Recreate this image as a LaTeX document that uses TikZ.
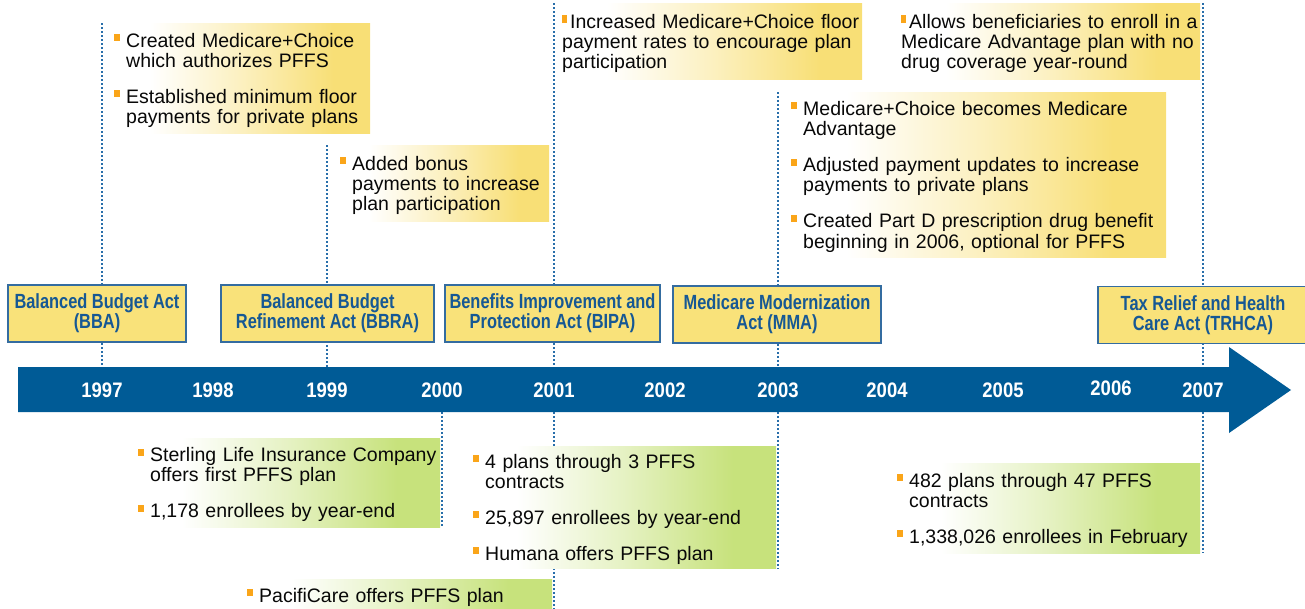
\documentclass[tikz,border=0pt]{standalone}
\usepackage{fontspec}
\setmainfont{Liberation Sans}
\newfontfamily\narrowsans[FakeStretch=0.8]{Liberation Sans}
\newfontfamily\yearsans[FakeStretch=0.88]{Liberation Sans}
\usetikzlibrary{backgrounds}

\definecolor{barblue}{RGB}{0,91,150}
\definecolor{actblue}{RGB}{22,88,148}
\definecolor{actedge}{RGB}{52,108,160}
\definecolor{actfill}{RGB}{249,226,122}
\definecolor{notegold}{RGB}{248,223,118}
\definecolor{notelime}{RGB}{199,226,124}
\definecolor{dotblue}{RGB}{40,110,170}
\definecolor{bulorange}{RGB}{250,165,25}
\definecolor{notetext}{RGB}{8,8,8}

\pgfdeclarehorizontalshading{goldfade}{100bp}{color(0bp)=(white); color(33bp)=(white); color(50bp)=(notegold!45!white); color(68bp)=(notegold); color(100bp)=(notegold)}
\pgfdeclarehorizontalshading{limefade}{100bp}{color(0bp)=(white); color(33bp)=(white); color(50bp)=(notelime!45!white); color(68bp)=(notelime); color(100bp)=(notelime)}

\newcommand{\bul}[1]{\par\noindent\makebox[12pt][l]{\textcolor{bulorange}{\rule[6pt]{6pt}{7pt}}}\begin{tabular}[t]{@{}l@{}}#1\end{tabular}\par}
\newcommand{\tbul}[1]{\par\noindent\begin{tabular}[t]{@{}l@{}}\textcolor{bulorange}{\rule[5pt]{5pt}{8pt}}\hspace{3pt}#1\end{tabular}\par}
\newcommand{\bulsep}{\vspace{15pt}}

\begin{document}
\begin{tikzpicture}[x=1pt, y=-1pt]
	\tikzset{note/.style={anchor=north west, inner xsep=6pt, inner ysep=0pt, align=left, text=notetext, font=\fontsize{19.5}{20}\selectfont},
	gold/.style={note, shading=goldfade},
	lime/.style={note, shading=limefade},
	act/.style={draw=actedge, line width=1.2pt, fill=actfill, text=actblue, align=center, minimum height=57pt, inner sep=2pt, font=\narrowsans\bfseries\fontsize{20.5}{20}\selectfont},
	yr/.style={text=white, inner sep=0pt, font=\yearsans\bfseries\fontsize{21}{22}\selectfont},
	dots/.style={dotblue, line width=1.6pt, dash pattern=on 1.6pt off 2.4pt}};

	\useasboundingbox (0,0) rectangle (1305,608);
	\coordinate (bartop) at (0,367);
	\coordinate (barbot) at (0,412);
	\fill[barblue] (18,367) -- (1229,367) -- (1229,347) -- (1291,390) -- (1229,433) -- (1229,412) -- (18,412) -- cycle;

	\foreach \yr/\xx/\yy in {1997/102/390.5, 1998/213/390.5, 1999/327/390.5, 2000/442/390.5, 2001/554/390.5, 2002/665/390.5, 2003/778/390.5, 2004/887/390.5, 2005/1003/390.5, 2006/1111/388.5, 2007/1203/390.5}
		\node[yr] (y\yr) at (\xx,\yy) {\yr};

	\node[act, minimum width=178pt] (bba) at (97,313.5) {Balanced Budget Act\\(BBA)};
	\node[act, minimum width=213pt] (bbra) at (327.5,313.5) {Balanced Budget\\Refinement Act (BBRA)};
	\node[act, minimum width=215pt] (bipa) at (552.5,313.5) {Benefits Improvement and\\Protection Act (BIPA)};
	\node[act, minimum width=208pt] (mma) at (777,314.5) {Medicare Modernization\\Act (MMA)};
	\node[act, minimum width=210pt] (trhca) at (1203,315) {Tax Relief and Health\\Care Act (TRHCA)};

	\node[gold, text width=250pt, minimum height=110pt] (bbaNote) at (108,23) {\bul{Created Medicare+Choice\\which authorizes PFFS}\bulsep\bul{Established minimum floor\\payments for private plans}};
	\node[gold, text width=203pt, minimum height=76pt] (bbraNote) at (334,145) {\bul{Added bonus\\payments to increase\\plan participation}};
	\node[gold, inner xsep=4pt, text width=296pt, minimum height=76pt] (bipaNote) at (558,3) {\tbul{Increased Medicare+Choice floor\\payment rates to encourage plan\\participation}};
	\node[gold, inner xsep=4pt, text width=295pt, minimum height=76pt] (trhcaNote) at (897,3) {\tbul{Allows beneficiaries to enroll in a\\Medicare Advantage plan with no\\drug coverage year-round}};
	\node[gold, text width=369pt, minimum height=165pt] (mmaNote) at (785,92) {\bul{Medicare+Choice becomes Medicare\\Advantage}\bulsep\bul{Adjusted payment updates to increase\\payments to private plans}\bulsep\bul{Created Part D prescription drug benefit\\beginning in 2006, optional for PFFS}};

	\node[lime, text width=296pt, minimum height=89pt] (pffs00) at (132,438) {\bul{Sterling Life Insurance Company\\offers first PFFS plan}\bulsep\bul{1,178 enrollees by year-end}};
	\node[lime, text width=297pt, minimum height=122pt] (pffs01) at (467,446) {\bul{4 plans through 3 PFFS\\contracts}\bulsep\bul{25,897 enrollees by year-end}\bulsep\bul{Humana offers PFFS plan}};
	\node[lime, text width=299pt, minimum height=32pt] (pffs01b) at (241,579) {\bul{PacifiCare offers PFFS plan}};
	\node[lime, text width=297pt, minimum height=90pt] (pffs07) at (891,463) {\bul{482 plans through 47 PFFS\\contracts}\bulsep\bul{1,338,026 enrollees in February}};

	\begin{pgfonlayer}{background}
		\foreach \yr/\nt in {1997/bbaNote, 1999/bbraNote, 2001/bipaNote, 2003/mmaNote, 2007/trhcaNote}
			\draw[dots] (y\yr |- \nt.north) -- (y\yr |- bartop);
		\foreach \yr/\nt in {2000/pffs00, 2001/pffs01b, 2003/pffs01, 2007/pffs07}
			\draw[dots] (y\yr |- barbot) -- (y\yr |- \nt.south);
	\end{pgfonlayer}
\end{tikzpicture}
\end{document}
